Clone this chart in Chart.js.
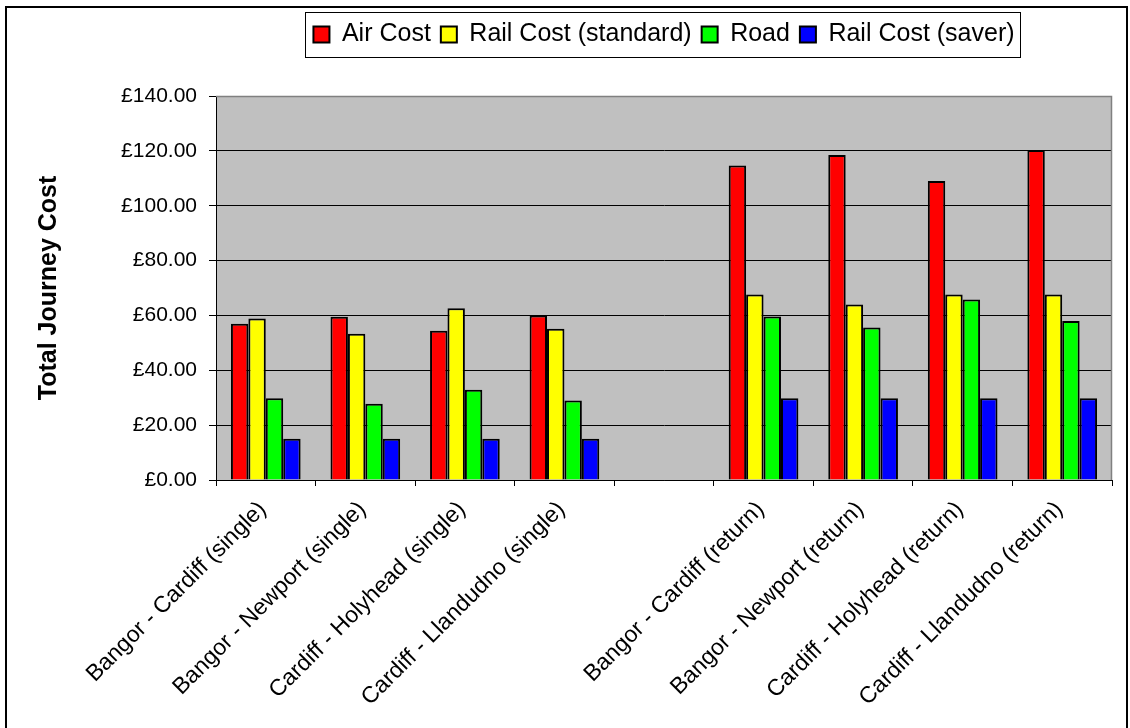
<!DOCTYPE html>
<html>
<head>
<meta charset="utf-8">
<title>Total Journey Cost</title>
<script src="https://cdn.jsdelivr.net/npm/chart.js@4/dist/chart.umd.min.js"></script>
<style>
  html, body { margin: 0; padding: 0; background: #ffffff; }
  canvas { display: block; }
</style>
</head>
<body>
<canvas id="chart" width="1130" height="728"></canvas>
<script>
// Journeys (blank slot separates singles from returns)
const routes = [
  'Bangor - Cardiff (single)',
  'Bangor - Newport (single)',
  'Cardiff - Holyhead (single)',
  'Cardiff - Llandudno (single)',
  '',
  'Bangor - Cardiff (return)',
  'Bangor - Newport (return)',
  'Cardiff - Holyhead (return)',
  'Cardiff - Llandudno (return)'
];

// Total journey cost in pounds
const airCost          = [57.0, 59.5, 54.4, 60.0, null, 114.7, 118.5, 109.0, 120.3];
const railStandardCost = [58.9, 53.3, 62.6, 55.1, null,  67.6,  64.0,  67.6,  67.6];
const roadCost         = [29.8, 27.8, 32.9, 29.0, null,  59.6,  55.6,  65.8,  58.0];
const railSaverCost    = [15.0, 15.0, 15.0, 15.0, null,  29.8,  29.8,  29.8,  29.8];

// Y axis ticks
const yMin = 0;
const yMax = 140;
const yStep = 20;

Chart.defaults.font.family = '"Liberation Sans", Arial, Helvetica, sans-serif';
Chart.defaults.color = '#000000';

// Page frame, plot background and plot edges
const frame = {
  id: 'frame',
  beforeDraw(chart) {
    const ctx = chart.ctx;
    const a = chart.chartArea;
    ctx.save();
    ctx.fillStyle = '#ffffff';
    ctx.fillRect(0, 0, chart.width, chart.height);
    ctx.strokeStyle = '#000000';
    ctx.lineWidth = 2;
    ctx.strokeRect(6, 7, 1121, 760);
    ctx.fillStyle = '#c0c0c0';
    ctx.fillRect(a.left, a.top, a.right - a.left, a.bottom - a.top);
    ctx.restore();
  },
  afterDraw(chart) {
    const ctx = chart.ctx;
    const a = chart.chartArea;
    ctx.save();
    ctx.strokeStyle = '#808080';
    ctx.lineWidth = 1.5;
    ctx.beginPath();
    ctx.moveTo(a.left, a.top + 0.5);
    ctx.lineTo(a.right - 0.5, a.top + 0.5);
    ctx.lineTo(a.right - 0.5, a.bottom);
    ctx.stroke();
    // legend box
    const lg = chart.legend;
    if (lg && lg.legendHitBoxes && lg.legendHitBoxes.length) {
      const boxes = lg.legendHitBoxes;
      const l = Math.min(...boxes.map(b => b.left)) - 8;
      const r = Math.max(...boxes.map(b => b.left + b.width)) + 6;
      ctx.strokeStyle = '#000000';
      ctx.lineWidth = 1;
      ctx.strokeRect(Math.round(l) + 0.5, lg.top + 0.5, Math.round(r - l), lg.height);
    }
    ctx.restore();
  }
};

const barStyle = (label, data, color) => ({
  label,
  data,
  backgroundColor: color,
  borderColor: '#000000',
  borderWidth: 2,
  categoryPercentage: 0.7,
  barPercentage: 1.0
});

new Chart(document.getElementById('chart'), {
  type: 'bar',
  data: {
    labels: routes,
    datasets: [
      barStyle('Air Cost', airCost, '#ff0000'),
      barStyle('Rail Cost (standard)', railStandardCost, '#ffff00'),
      barStyle('Road', roadCost, '#00ff00'),
      barStyle('Rail Cost (saver)', railSaverCost, '#0000ff')
    ]
  },
  options: {
    responsive: false,
    animation: false,
    layout: { padding: { left: 0, right: 18, top: 12, bottom: 0 } },
    plugins: {
      legend: {
        display: true,
        position: 'top',
        fullSize: false,
        weight: 1000,
        labels: {
          boxWidth: 16,
          boxHeight: 16,
          padding: 10,
          color: '#000000',
          font: { size: 25 }
        }
      },
      title: {
        display: true,
        text: '',
        weight: 100,
        padding: 0,
        font: { size: 10, lineHeight: '39px' }
      },
      tooltip: { enabled: false }
    },
    scales: {
      x: {
        offset: true,
        afterFit(scale) { scale.height = 248; },
        grid: {
          display: true,
          offset: true,
          drawOnChartArea: false,
          drawTicks: true,
          tickLength: 6,
          color: '#000000'
        },
        border: { display: true, color: '#000000', width: 1 },
        ticks: {
          autoSkip: false,
          minRotation: 45,
          maxRotation: 45,
          padding: 10,
          labelOffset: -3,
          color: '#000000',
          font: { size: 23 }
        }
      },
      y: {
        min: yMin,
        max: yMax,
        afterFit(scale) { scale.width = 216; },
        grid: {
          color: '#000000',
          lineWidth: 1,
          tickLength: 7,
          drawTicks: true
        },
        border: { display: true, color: '#000000', width: 1 },
        ticks: {
          stepSize: yStep,
          padding: 12,
          color: '#000000',
          font: { size: 21 },
          callback: v => '£' + Number(v).toFixed(2)
        },
        title: {
          display: true,
          text: 'Total Journey Cost',
          color: '#000000',
          font: { size: 25, weight: 'bold' },
          padding: { top: 34.5, bottom: 0 }
        }
      }
    }
  },
  plugins: [frame]
});
</script>
</body>
</html>
